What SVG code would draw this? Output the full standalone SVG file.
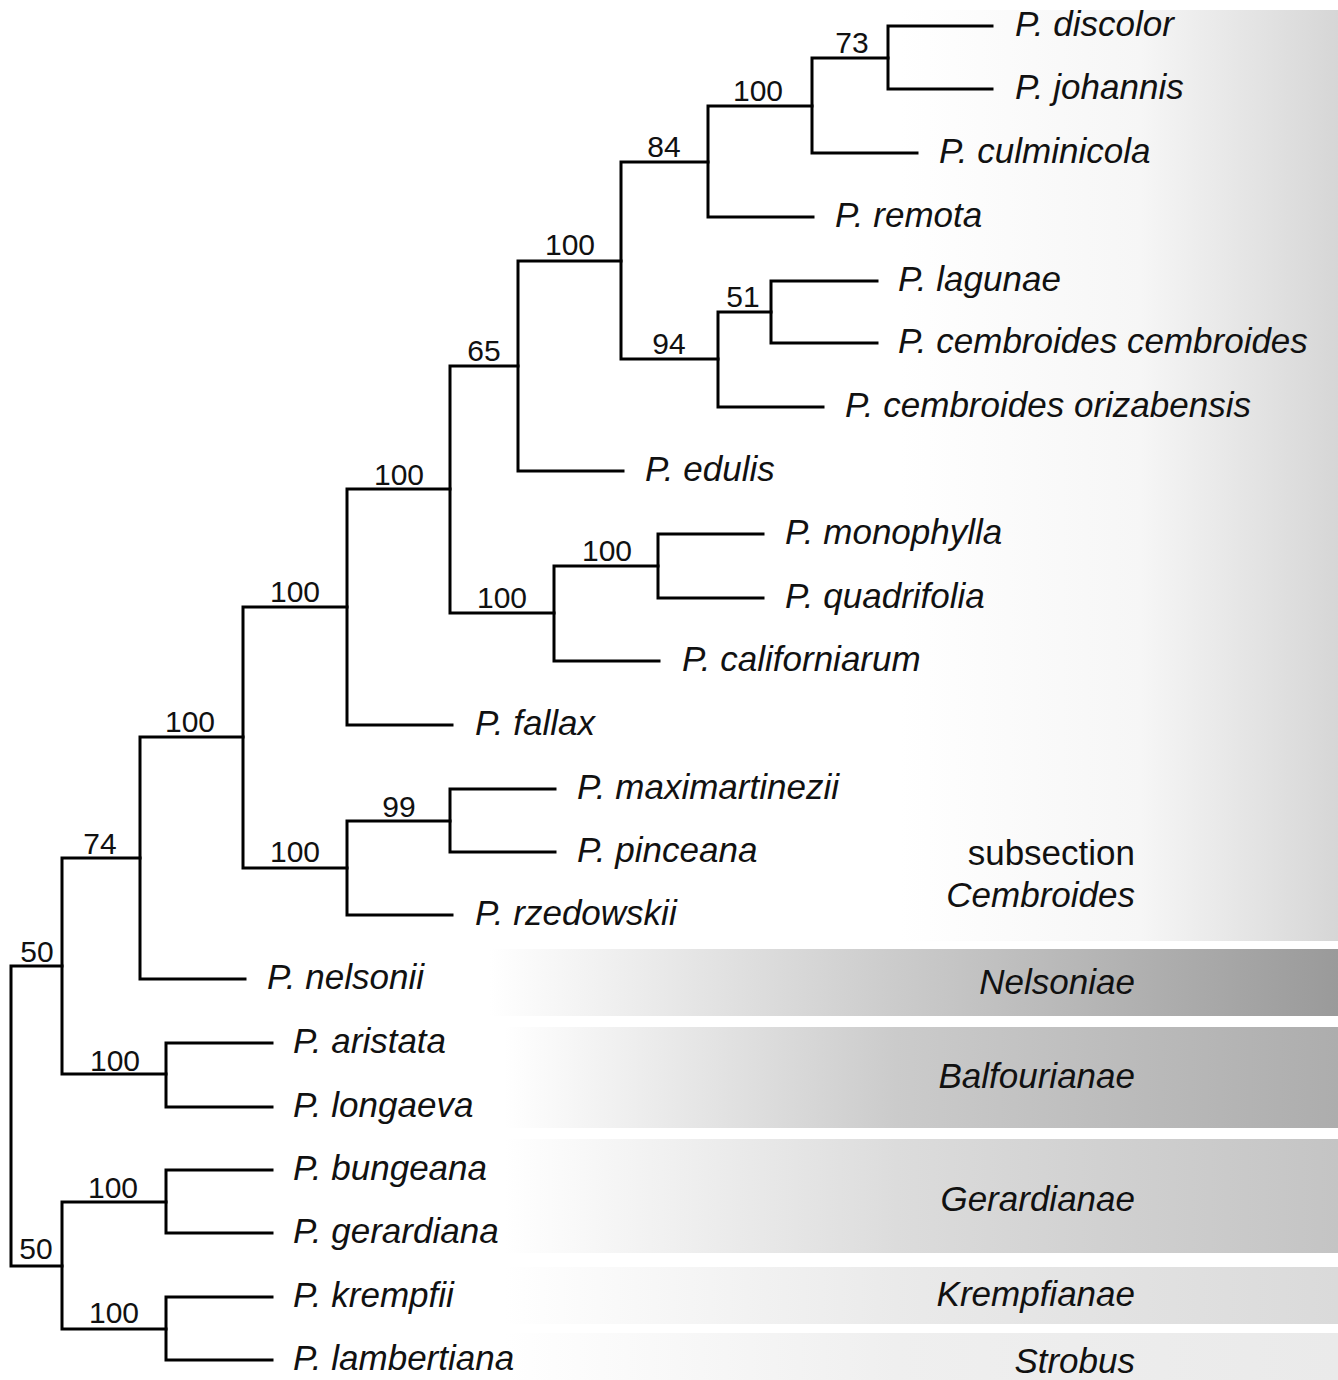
<svg xmlns="http://www.w3.org/2000/svg" width="1338" height="1380" viewBox="0 0 1338 1380">
<defs>
<style>
.e{fill:none;stroke:#000;stroke-width:3;stroke-linecap:square}
.lf{font-family:"Liberation Sans",Arial,sans-serif;font-style:italic;font-size:35px;fill:#111}
.bs{font-family:"Liberation Sans",Arial,sans-serif;font-size:30px;fill:#111;text-anchor:middle}
.sec{font-family:"Liberation Sans",Arial,sans-serif;font-style:italic;font-size:35px;fill:#111;text-anchor:end}
</style>
<linearGradient id="gC" gradientUnits="userSpaceOnUse" x1="900" y1="0" x2="1338" y2="0">
<stop offset="0" stop-color="#fff"/><stop offset="0.55" stop-color="#f6f6f6"/><stop offset="1" stop-color="#d6d6d6"/>
</linearGradient>
<linearGradient id="gN" gradientUnits="userSpaceOnUse" x1="490" y1="0" x2="1338" y2="0">
<stop offset="0" stop-color="#fff"/><stop offset="0.48" stop-color="#cbcbcb"/><stop offset="1" stop-color="#9a9a9a"/>
</linearGradient>
<linearGradient id="gB" gradientUnits="userSpaceOnUse" x1="505" y1="0" x2="1338" y2="0">
<stop offset="0" stop-color="#fff"/><stop offset="0.47" stop-color="#cbcbcb"/><stop offset="1" stop-color="#adadad"/>
</linearGradient>
<linearGradient id="gG" gradientUnits="userSpaceOnUse" x1="505" y1="0" x2="1338" y2="0">
<stop offset="0" stop-color="#fff"/><stop offset="0.47" stop-color="#dcdcdc"/><stop offset="1" stop-color="#c4c4c4"/>
</linearGradient>
<linearGradient id="gK" gradientUnits="userSpaceOnUse" x1="505" y1="0" x2="1338" y2="0">
<stop offset="0" stop-color="#fff"/><stop offset="0.47" stop-color="#eaeaea"/><stop offset="1" stop-color="#dadada"/>
</linearGradient>
<linearGradient id="gS" gradientUnits="userSpaceOnUse" x1="505" y1="0" x2="1338" y2="0">
<stop offset="0" stop-color="#fff"/><stop offset="0.47" stop-color="#efefef"/><stop offset="1" stop-color="#eaeaea"/>
</linearGradient>
</defs>
<rect width="1338" height="1380" fill="#fff"/>
<g id="bands">
<rect id="band-cembroides" x="900" y="10" width="438" height="931" fill="url(#gC)"/>
<rect id="band-nelsoniae" x="490" y="949" width="848" height="67" fill="url(#gN)"/>
<rect id="band-balfourianae" x="505" y="1027" width="833" height="101" fill="url(#gB)"/>
<rect id="band-gerardianae" x="505" y="1139" width="833" height="114" fill="url(#gG)"/>
<rect id="band-krempfianae" x="505" y="1267" width="833" height="57" fill="url(#gK)"/>
<rect id="band-strobus" x="505" y="1333" width="833" height="47" fill="url(#gS)"/>
</g>
<g id="connectors" class="e">
<path d="M888 26V89M888 26H992M888 89H992"/>
<path d="M812 58V153M812 58H888M812 153H917"/>
<path d="M708 106V217M708 106H812M708 217H813"/>
<path d="M771 281V343M771 281H877M771 343H877"/>
<path d="M718 312V407M718 312H771M718 407H823"/>
<path d="M621 162V359M621 162H708M621 359H718"/>
<path d="M518 261V471M518 261H621M518 471H623"/>
<path d="M658 534V598M658 534H763M658 598H763"/>
<path d="M554 566V661M554 566H658M554 661H659"/>
<path d="M450 366V613M450 366H518M450 613H554"/>
<path d="M347 489V725M347 489H450M347 725H452"/>
<path d="M450 789V852M450 789H555M450 852H555"/>
<path d="M347 821V915M347 821H450M347 915H452"/>
<path d="M243 607V868M243 607H347M243 868H347"/>
<path d="M140 737V979M140 737H243M140 979H245"/>
<path d="M166 1043V1107M166 1043H272M166 1107H272"/>
<path d="M62 858V1074M62 858H140M62 1074H166"/>
<path d="M166 1170V1233M166 1170H272M166 1233H272"/>
<path d="M166 1297V1360M166 1297H272M166 1360H272"/>
<path d="M62 1202V1329M62 1202H166M62 1329H166"/>
<path d="M11 966V1266M11 966H62M11 1266H62"/>
</g>
<g id="leaves" class="lf">
<g id="leaf-discolor"><text x="1015" y="36">P. discolor</text></g>
<g id="leaf-johannis"><text x="1015" y="99">P. johannis</text></g>
<g id="leaf-culminicola"><text x="939" y="163">P. culminicola</text></g>
<g id="leaf-remota"><text x="835" y="227">P. remota</text></g>
<g id="leaf-lagunae"><text x="898" y="291">P. lagunae</text></g>
<g id="leaf-cembroides"><text x="898" y="353">P. cembroides cembroides</text></g>
<g id="leaf-orizabensis"><text x="845" y="417">P. cembroides orizabensis</text></g>
<g id="leaf-edulis"><text x="645" y="481">P. edulis</text></g>
<g id="leaf-monophylla"><text x="785" y="544">P. monophylla</text></g>
<g id="leaf-quadrifolia"><text x="785" y="608">P. quadrifolia</text></g>
<g id="leaf-californiarum"><text x="682" y="671">P. californiarum</text></g>
<g id="leaf-fallax"><text x="475" y="735">P. fallax</text></g>
<g id="leaf-maximartinezii"><text x="577" y="799">P. maximartinezii</text></g>
<g id="leaf-pinceana"><text x="577" y="862">P. pinceana</text></g>
<g id="leaf-rzedowskii"><text x="475" y="925">P. rzedowskii</text></g>
<g id="leaf-nelsonii"><text x="267" y="989">P. nelsonii</text></g>
<g id="leaf-aristata"><text x="293" y="1053">P. aristata</text></g>
<g id="leaf-longaeva"><text x="293" y="1117">P. longaeva</text></g>
<g id="leaf-bungeana"><text x="293" y="1180">P. bungeana</text></g>
<g id="leaf-gerardiana"><text x="293" y="1243">P. gerardiana</text></g>
<g id="leaf-krempfii"><text x="293" y="1307">P. krempfii</text></g>
<g id="leaf-lambertiana"><text x="293" y="1370">P. lambertiana</text></g>
</g>
<g id="nodes" class="bs">
<g id="n73"><text x="852" y="53">73</text></g>
<g id="n100a"><text x="758" y="101">100</text></g>
<g id="n84"><text x="664" y="157">84</text></g>
<g id="n100b"><text x="570" y="255">100</text></g>
<g id="n51"><text x="743" y="307">51</text></g>
<g id="n94"><text x="669" y="354">94</text></g>
<g id="n65"><text x="484" y="361">65</text></g>
<g id="n100e"><text x="399" y="485">100</text></g>
<g id="n100c"><text x="607" y="561">100</text></g>
<g id="n100d"><text x="502" y="608">100</text></g>
<g id="n100f"><text x="295" y="602">100</text></g>
<g id="n99"><text x="399" y="817">99</text></g>
<g id="n100g"><text x="295" y="862">100</text></g>
<g id="n100h"><text x="190" y="732">100</text></g>
<g id="n74"><text x="100" y="854">74</text></g>
<g id="n50a"><text x="37" y="962">50</text></g>
<g id="n100i"><text x="115" y="1071">100</text></g>
<g id="n100j"><text x="113" y="1198">100</text></g>
<g id="n50b"><text x="36" y="1259">50</text></g>
<g id="n100k"><text x="114" y="1323">100</text></g>
</g>
<g id="sections">
<g id="sec-cembroides"><text class="sec" x="1135" y="865" style="font-style:normal">subsection</text><text class="sec" x="1135" y="907">Cembroides</text></g>
<g id="sec-nelsoniae"><text class="sec" x="1135" y="994">Nelsoniae</text></g>
<g id="sec-balfourianae"><text class="sec" x="1135" y="1088">Balfourianae</text></g>
<g id="sec-gerardianae"><text class="sec" x="1135" y="1211">Gerardianae</text></g>
<g id="sec-krempfianae"><text class="sec" x="1135" y="1306">Krempfianae</text></g>
<g id="sec-strobus"><text class="sec" x="1135" y="1373">Strobus</text></g>
</g>
</svg>
